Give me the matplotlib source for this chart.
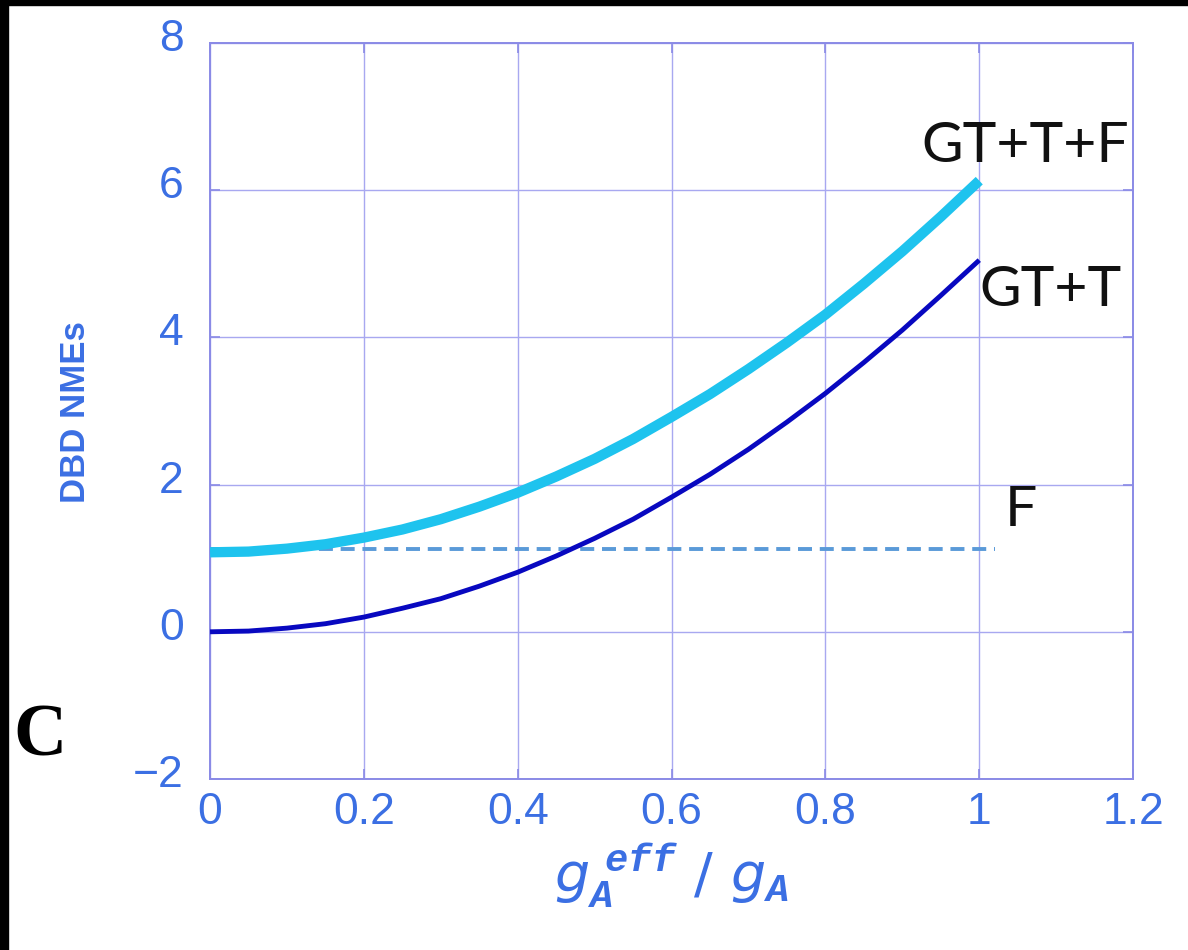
import matplotlib
matplotlib.use('Agg')
import matplotlib.pyplot as plt
from matplotlib.patches import Rectangle
from matplotlib.transforms import ScaledTranslation

# g_A^eff / g_A values and the DBD matrix elements read at 0.05 steps
ratio = [0.0, 0.05, 0.1, 0.15, 0.2, 0.25, 0.3, 0.35, 0.4, 0.45, 0.5,
         0.55, 0.6, 0.65, 0.7, 0.75, 0.8, 0.85, 0.9, 0.95, 1.0]
nme_gt_t = [0.0, 0.01, 0.05, 0.11, 0.2, 0.32, 0.45, 0.62, 0.81, 1.03, 1.27,
            1.53, 1.83, 2.14, 2.48, 2.85, 3.24, 3.66, 4.1, 4.57, 5.05]
nme_gt_t_f = [1.08, 1.09, 1.13, 1.19, 1.28, 1.39, 1.53, 1.70, 1.89, 2.11, 2.35,
              2.62, 2.92, 3.23, 3.57, 3.93, 4.31, 4.73, 5.17, 5.64, 6.13]
nme_f = 1.13
f_range = [0.0, 1.02]

xticks = [0, 0.2, 0.4, 0.6, 0.8, 1.0, 1.2]
xticklabels = ['0', '0.2', '0.4', '0.6', '0.8', '1', '1.2']
yticks = [-2, 0, 2, 4, 6, 8]
yticklabels = ['\u22122', '0', '2', '4', '6', '8']

BLUE_TXT = '#3b6fe3'
GRID = '#a8a8f0'
SPINE = '#8a8ae6'

plt.rcParams['mathtext.fontset'] = 'custom'
plt.rcParams['mathtext.it'] = 'DejaVu Sans:italic'
plt.rcParams['mathtext.bf'] = 'Liberation Mono:italic:bold'
plt.rcParams['mathtext.rm'] = 'DejaVu Sans'

fig = plt.figure(figsize=(11.88, 9.5), dpi=100)
ax = fig.add_axes([0.1768, 0.18, 0.777, 0.7747])

ax.plot(ratio, nme_gt_t_f, color='#1ec3ee', lw=7.4, solid_capstyle='butt', zorder=4)
ax.plot(ratio, nme_gt_t, color='#0808c0', lw=3.5, solid_capstyle='butt', zorder=4)
ax.plot(f_range, [nme_f, nme_f], color='#5a9ad8', lw=2.8, dashes=(3.6, 2.0), zorder=3)

ax.set_xlim(0, 1.2)
ax.set_ylim(-2, 8)
ax.set_xticks(xticks)
ax.set_xticklabels(xticklabels)
ax.set_yticks(yticks)
ax.set_yticklabels(yticklabels)
ax.grid(True, color=GRID, lw=1.0)
ax.set_axisbelow(True)
for s in ax.spines.values():
    s.set_color(SPINE)
    s.set_linewidth(1.4)
ax.tick_params(direction='in', length=7, width=1.2, color=SPINE,
               top=True, right=True, labelsize=32, labelcolor=BLUE_TXT)
ax.tick_params(axis='x', pad=9)
ax.tick_params(axis='y', pad=19)
for lab in ax.get_xticklabels() + ax.get_yticklabels():
    lab.set_family(['Liberation Sans', 'DejaVu Sans'])
# y numbers sit a little above their grid lines
lift = ScaledTranslation(0, 8 / 100, fig.dpi_scale_trans)
for lab in ax.get_yticklabels():
    lab.set_transform(lab.get_transform() + lift)

# curve labels
lab_font = dict(family=['Lato', 'DejaVu Sans'], fontsize=41, color='#111111')
ax.text(1.06, 6.6, 'GT+T+F', ha='center', va='center', **lab_font)
ax.text(1.0, 4.64, 'GT+T', ha='left', va='center', **lab_font)
ax.text(1.033, 1.65, 'F', ha='left', va='center', **lab_font)

ax.set_ylabel('DBD NMEs', fontsize=25, fontweight='bold', color=BLUE_TXT,
              family=['Liberation Sans', 'DejaVu Sans'])
ax.yaxis.set_label_coords(-0.128, 0.498)
ax.set_xlabel(r'$g_{\mathbf{A}}^{\ \mathbf{eff}}\ /\ g_{\mathbf{A}}$',
              fontsize=40, color=BLUE_TXT, labelpad=6)

fig.text(0.011, 0.205, 'C', fontsize=53, fontweight='bold',
         family=['Liberation Serif', 'DejaVu Serif'], color='black')

# black frame strips on the left and top
fig.add_artist(Rectangle((0, 0), 8 / 1188, 1, transform=fig.transFigure,
                         color='black', zorder=10))
fig.add_artist(Rectangle((0, 1 - 5 / 950), 1, 5 / 950, transform=fig.transFigure,
                         color='black', zorder=10))

fig.savefig('out.png', dpi=100)
